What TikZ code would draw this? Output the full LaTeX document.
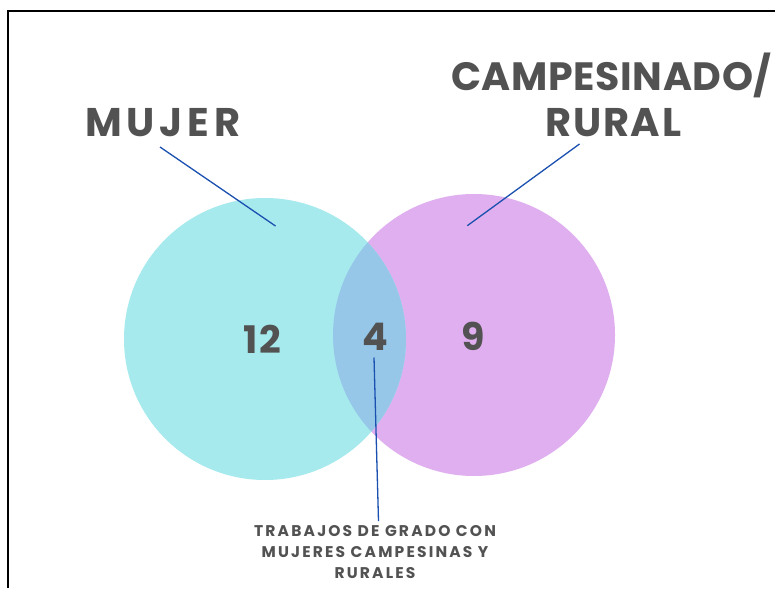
\documentclass[tikz,border=0pt]{standalone}
\usepackage{fontspec}
\setmainfont{Poppins}
\newfontfamily\headfont[LetterSpace=12]{Poppins}
\newfontfamily\headnarrowfont[LetterSpace=4.5]{Poppins}
\newfontfamily\headtightfont[LetterSpace=1.5]{Poppins}
\newfontfamily\numfont[LetterSpace=6]{Poppins}
\newfontfamily\notefont[LetterSpace=14]{Poppins}
\definecolor{cyanset}{HTML}{A6EAEE}
\definecolor{purpleset}{HTML}{E0AFEF}
\definecolor{overlapset}{HTML}{97C7E8}
\definecolor{txtgray}{HTML}{525252}
\definecolor{linkblue}{HTML}{1A50B0}
\tikzset{
  setlabel/.style={inner sep=0pt, text=txtgray, font=\headfont\bfseries\fontsize{40}{40}\selectfont},
  setlabelnarrow/.style={inner sep=0pt, text=txtgray, font=\headnarrowfont\bfseries\fontsize{40}{40}\selectfont},
  setlabeltight/.style={inner sep=0pt, text=txtgray, font=\headtightfont\bfseries\fontsize{39.5}{40}\selectfont},
  numlabel/.style={inner sep=0pt, text=txtgray, font=\numfont\bfseries\fontsize{38}{38}\selectfont},
  notelabel/.style={inner sep=0pt, text=txtgray, align=center, font=\notefont\bfseries\fontsize{15.5}{21}\selectfont},
  conn/.style={draw=linkblue, line width=1.3pt},
  frameline/.style={draw=black, line width=1.8pt},
  setcircle/.style={circle, minimum size=282pt, inner sep=0pt, draw=none}
}
\begin{document}
\begin{tikzpicture}[x=1pt,y=-1pt]
\useasboundingbox (0,0) rectangle (775,588);
\fill[white] (0,0) rectangle (775,588);
% frame
\draw[frameline] (8,588) -- (8,11.2) -- (776,11.2);
% circles
\node[setcircle, fill=purpleset] (rural) at (474,335) {};
\node[setcircle, fill=cyanset] (mujer) at (265,339) {};
\begin{scope}
  \clip (265,339) circle (141pt);
  \fill[overlapset] (474,335) circle (141pt);
\end{scope}
% labels
\node[setlabel, anchor=base west] (lmujer) at (85,136.5) {MUJER};
\node[setlabeltight, anchor=base west] (lcamp) at (451,90.5) {CAMPESINADO/};
\node[setlabelnarrow, anchor=base west] (lrural) at (545,136.5) {RURAL};
\node[numlabel, anchor=base west] (n12) at (243,353) {12};
\node[numlabel, anchor=base west] (n4) at (362,350) {4};
\node[numlabel, anchor=base west] (n9) at (461,350) {9};
\node[notelabel, anchor=north] (note) at (375,525) {TRABAJOS DE GRADO CON\\MUJERES CAMPESINAS Y\\RURALES};
% connector ends
\coordinate (m1) at (160,147);
\coordinate (m2) at (275.5,226);
\coordinate (r1) at (579.5,144);
\coordinate (r2) at (467.3,225.7);
\coordinate (i1) at (374,357.5);
\coordinate (i2) at (378.5,521);
\draw[conn] (m1) -- (m2);
\draw[conn] (r1) -- (r2);
\draw[conn] (i1) -- (i2);
\end{tikzpicture}
\end{document}
